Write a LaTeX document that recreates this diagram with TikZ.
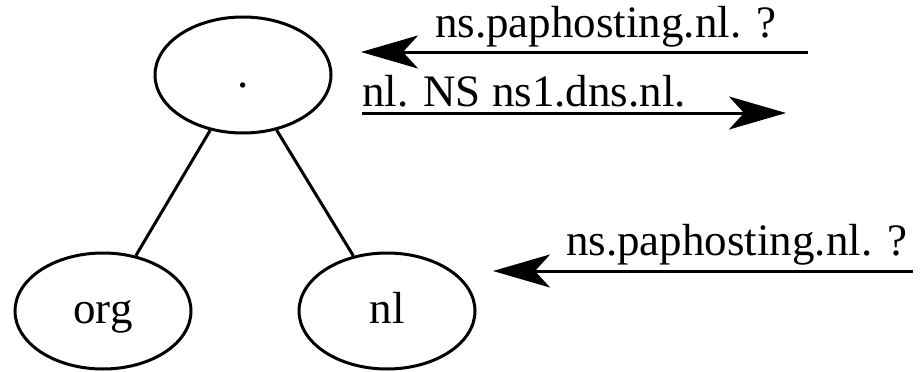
\documentclass[tikz,border=0pt]{standalone}
\usepackage{fontspec}
\setmainfont{Liberation Serif}
\usetikzlibrary{arrows.meta,shapes.geometric}
\begin{document}
\begin{tikzpicture}[x=1pt,y=-1pt,
  treenode/.style={draw,ellipse,line width=3pt,inner sep=0pt,
    minimum width=176pt,minimum height=116pt,
    text height=24pt,text depth=0pt,
    font=\fontsize{45}{54}\selectfont},
  edge/.style={line width=3pt},
  msg/.style={line width=3pt,-{Stealth[length=57pt,width=33pt,inset=15pt]}},
  msglabel/.style={anchor=base west,inner sep=0pt,font=\fontsize{45}{54}\selectfont}]
\useasboundingbox (0,0) rectangle (922,372);
% the DNS tree
\node[treenode] (root) at (243,75) {.};
\node[treenode] (org) at (103,311) {org};
\node[treenode] (nl) at (387,311) {nl};
\draw[edge] (root) -- (org);
\draw[edge] (root) -- (nl);
% query to the root server and its referral
\coordinate (q1s) at (808,52);
\coordinate (q1e) at (361,52);
\coordinate (r1s) at (362,113);
\coordinate (r1e) at (786,113);
\draw[msg] (q1s) -- (q1e);
\draw[msg] (r1s) -- (r1e);
\node[msglabel] (q1) at (435,37) {ns.paphosting.nl. ?};
\node[msglabel] (r1) at (362,106) {nl. NS ns1.dns.nl.};
% query to the nl server
\coordinate (q2s) at (913,271);
\coordinate (q2e) at (493,271);
\draw[msg] (q2s) -- (q2e);
\node[msglabel] (q2) at (566,255) {ns.paphosting.nl. ?};
\end{tikzpicture}
\end{document}
